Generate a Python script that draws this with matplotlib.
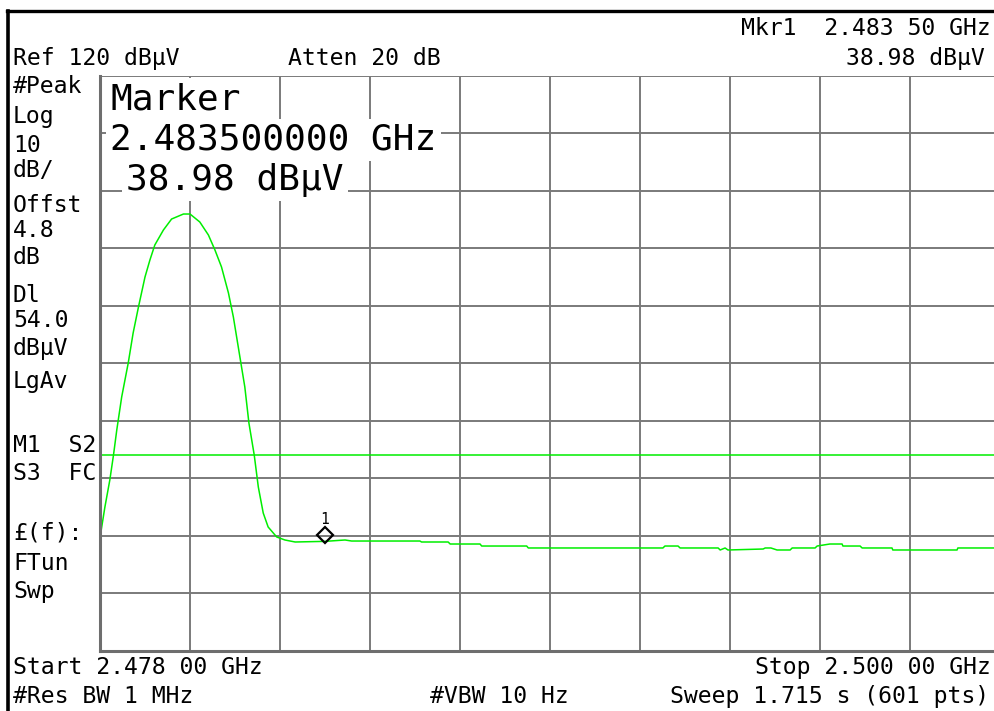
import matplotlib
matplotlib.use("Agg")
import matplotlib.pyplot as plt
from matplotlib.lines import Line2D
from matplotlib.transforms import offset_copy

# trace (MHz, dBuV)
freq_mhz = [2478.00, 2478.12, 2478.24, 2478.33, 2478.41, 2478.53, 2478.69, 2478.81, 2478.94, 2479.10,
            2479.22, 2479.34, 2479.55, 2479.75, 2480.04, 2480.20, 2480.44, 2480.65, 2480.81, 2480.97,
            2481.14, 2481.26, 2481.42, 2481.54, 2481.64, 2481.77, 2481.87, 2481.99, 2482.11, 2482.32,
            2482.52, 2482.77, 2483.50, 2483.99, 2484.15, 2485.82, 2485.86, 2486.51, 2486.56, 2487.29,
            2487.33, 2488.43, 2488.47, 2491.76, 2491.81, 2492.13, 2492.18, 2493.11, 2493.16, 2493.28,
            2493.35, 2494.21, 2494.26, 2494.40, 2494.55, 2494.87, 2494.92, 2495.48, 2495.53, 2495.84,
            2496.14, 2496.16, 2496.58, 2496.63, 2497.36, 2497.38, 2498.95, 2498.97, 2500.00]
level_dbuv = [39.6, 44.96, 49.65, 54.0, 58.35, 64.09, 70.0, 75.22, 79.74, 84.96,
              87.91, 90.52, 93.13, 95.04, 95.91, 95.91, 94.52, 92.26, 89.65, 86.70,
              82.17, 78.0, 71.04, 65.83, 59.57, 54.0, 48.43, 43.91, 41.48, 39.74,
              39.22, 38.87, 38.98, 39.22, 39.04, 39.04, 38.87, 38.87, 38.52, 38.52,
              38.17, 38.17, 37.83, 37.83, 38.17, 38.17, 37.83, 37.83, 37.48, 37.83,
              37.48, 37.65, 37.83, 37.83, 37.48, 37.48, 37.83, 37.83, 38.17, 38.52,
              38.52, 38.17, 38.17, 37.83, 37.83, 37.48, 37.48, 37.83, 37.83]

start_mhz, stop_mhz = 2478.0, 2500.0
ref_level, db_per_div = 120, 10
display_line = 54.0
marker_freq, marker_level = 2483.5, 38.98

left_labels = ["#Peak", "Log", "10", "dB/", "Offst", "4.8", "dB", "Dl", "54.0", "dBµV",
               "LgAv", "M1  S2", "S3  FC", "£(f):", "FTun", "Swp"]
left_baselines = [93, 123, 152, 177, 212, 237, 264, 302, 327, 355, 388, 452, 480, 540, 570, 598]

W, H = 994, 711
fig = plt.figure(figsize=(W / 100, H / 100), dpi=100)
fig.patch.set_facecolor("white")

# screen graticule, right edge is off the picture
ax = fig.add_axes([100 / W, (H - 650.5) / H, 900 / W, 575 / H])
ax.set_xlim(start_mhz, stop_mhz)
ax.set_ylim(ref_level - 10 * db_per_div, ref_level)
ax.set_xticks([start_mhz + i * (stop_mhz - start_mhz) / 10 for i in range(11)])
ax.set_yticks([ref_level - i * db_per_div for i in range(11)])
ax.tick_params(length=0, labelbottom=False, labelleft=False)
ax.grid(True, color="#7a7a7a", lw=1.4)
ax.set_axisbelow(True)
for side in ["top", "right"]:
    ax.spines[side].set_visible(False)
for side in ["left", "bottom"]:
    ax.spines[side].set_color("#6e6e6e")
    ax.spines[side].set_linewidth(2.2)

ax.axhline(display_line, color="#00ee00", lw=1.1)
ax.plot(freq_mhz, level_dbuv, color="#00ee00", lw=1.1, clip_on=False)

# marker 1 sits just above the trace point
mk_tr = offset_copy(ax.transData, fig=fig, y=6, units="dots")
ax.plot([marker_freq], [marker_level], marker="D", ms=8, mfc="none", mec="black", mew=1.6,
        transform=mk_tr)
ax.text(marker_freq, marker_level, "1", transform=offset_copy(ax.transData, fig=fig, y=17, units="dots"),
        ha="center", va="baseline", fontsize=10.5, family="DejaVu Sans Mono")

# outer frame of the screen
fig.add_artist(Line2D([6.5 / W, 1.0], [1 - 10.5 / H, 1 - 10.5 / H], color="black", lw=2.4))
fig.add_artist(Line2D([8 / W, 8 / W], [0, 1 - 10.5 / H], color="black", lw=2.6))

mono = "DejaVu Sans Mono"
small = 16.7


def put(x, y, s, size=small, ha="left", **kw):
    fig.text(x / W, 1 - y / H, s, ha=ha, va="baseline", fontsize=size, family=mono, **kw)


put(13, 65, "Ref 120 dBµV")
put(288, 65, "Atten 20 dB")
put(991, 35, "Mkr1  2.483 50 GHz", ha="right")
put(985, 65, "38.98 dBµV", ha="right")
for s, yb in zip(left_labels, left_baselines):
    put(13, yb, s)
put(13, 674, "Start 2.478 00 GHz")
put(991, 674, "Stop 2.500 00 GHz", ha="right")
put(13, 703, "#Res BW 1 MHz")
put(430, 703, "#VBW 10 Hz")
put(989, 703, "Sweep 1.715 s (601 pts)", ha="right")

box = dict(facecolor="white", edgecolor="none", pad=3)
put(110, 109, "Marker", size=26, bbox=box)
put(110, 150, "2.483500000 GHz", size=26, bbox=box)
put(126, 190, "38.98 dBµV", size=26, bbox=box)

fig.savefig("out.png", dpi=100)
